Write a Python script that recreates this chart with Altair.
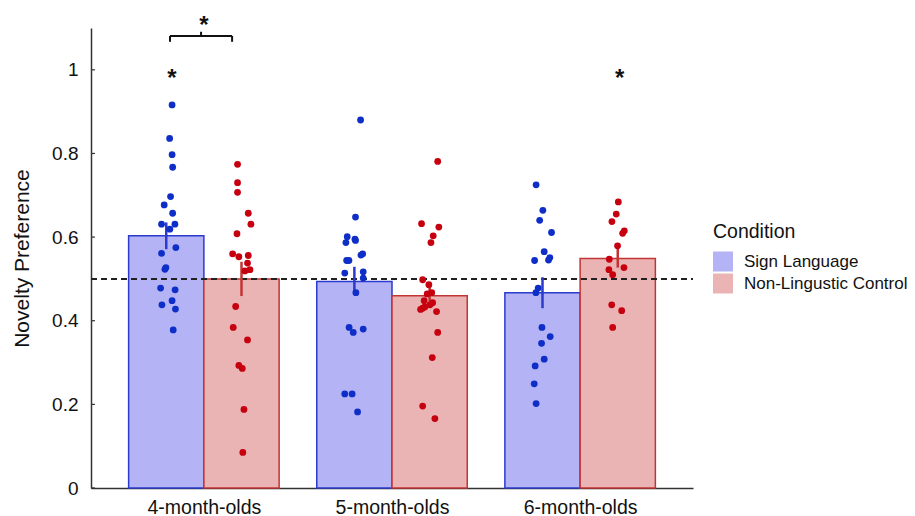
import altair as alt
import pandas as pd

FONT = "Liberation Sans"

groups = ["4-month-olds", "5-month-olds", "6-month-olds"]
conditions = ["Sign Language", "Non-Lingustic Control"]

# bar means and error bar ends
mean_sign = [0.603, 0.494, 0.467]
mean_ctrl = [0.500, 0.460, 0.549]
err_lo_sign = [0.571, 0.466, 0.430]
err_hi_sign = [0.635, 0.529, 0.504]
err_lo_ctrl = [0.459, 0.437, 0.527]
err_hi_ctrl = [0.541, 0.483, 0.579]

# individual infants: values and horizontal jitter (category units)
sign_4 = [0.916, 0.836, 0.797, 0.767, 0.697, 0.677, 0.657, 0.631, 0.631, 0.619,
          0.575, 0.561, 0.523, 0.527, 0.478, 0.474, 0.448, 0.438, 0.428, 0.378]
sign_4_jit = [0.031, 0.018, 0.031, 0.034, 0.023, -0.011, 0.034, -0.025, 0.046, 0.019,
              0.051, -0.025, -0.007, -0.002, -0.030, 0.047, 0.031, -0.023, 0.049, 0.037]
ctrl_4 = [0.774, 0.730, 0.707, 0.657, 0.631, 0.608, 0.560, 0.553, 0.556, 0.538,
          0.522, 0.519, 0.434, 0.384, 0.354, 0.293, 0.286, 0.188, 0.085]
ctrl_4_jit = [-0.021, -0.021, -0.021, 0.036, 0.050, -0.024, -0.047, -0.014, 0.036, 0.032,
              0.045, 0.018, -0.031, -0.044, 0.032, -0.014, 0.004, 0.013, 0.007]
sign_5 = [0.880, 0.648, 0.601, 0.595, 0.587, 0.592, 0.560, 0.557, 0.544, 0.544,
          0.514, 0.517, 0.502, 0.467, 0.384, 0.372, 0.380, 0.225, 0.225, 0.182]
sign_5_jit = [0.033, 0.006, -0.038, 0.003, -0.045, 0.006, 0.044, 0.035, -0.041, -0.029,
              -0.051, 0.047, 0.047, 0.008, -0.028, -0.006, 0.047, -0.051, -0.012, 0.017]
ctrl_5 = [0.781, 0.632, 0.624, 0.603, 0.587, 0.498, 0.486, 0.467, 0.464, 0.448,
          0.443, 0.438, 0.430, 0.427, 0.433, 0.422, 0.372, 0.312, 0.196, 0.166]
ctrl_5_jit = [0.043, -0.043, 0.049, 0.019, 0.007, -0.037, -0.004, 0.011, -0.013, -0.029,
              0.016, 0.002, -0.037, -0.048, -0.025, 0.037, 0.043, 0.014, -0.037, 0.028]
sign_6 = [0.725, 0.664, 0.640, 0.611, 0.565, 0.551, 0.545, 0.544, 0.478, 0.467,
          0.384, 0.362, 0.346, 0.308, 0.292, 0.249, 0.202]
sign_6_jit = [-0.034, 0.002, -0.015, 0.048, 0.009, 0.039, 0.032, -0.042, -0.023, -0.035,
              -0.003, 0.041, -0.005, 0.009, -0.039, -0.044, -0.034]
ctrl_6 = [0.684, 0.655, 0.637, 0.615, 0.609, 0.579, 0.547, 0.527, 0.522, 0.510,
          0.438, 0.424, 0.384]
ctrl_6_jit = [0.003, -0.008, -0.031, 0.035, 0.026, -0.001, -0.045, 0.033, -0.047, -0.027,
              -0.032, 0.021, -0.027]

y_ticks = [0, 0.2, 0.4, 0.6, 0.8, 1]
chance = 0.5

# annotations: significance bracket and stars
bracket_x = [0.82, 1.15]
bracket_y = [1.081, 1.067]
bracket_mid = [0.985, 1.091]
star_x = [0.83, 1.0, 3.21]
star_y = [0.962, 1.089, 0.962]

FILL = ["#b3b3f6", "#ebb4b4"]
STROKE = ["#2b3bcc", "#c33434"]
DOTS = ["#0f2ec8", "#c6000f"]
BAR_W = 0.4

# ---- build tables ----
bars = []
errs = []
for i, g in enumerate(groups):
    gi = i + 1
    bars.append(dict(group=g, cond=conditions[0], x0=gi - BAR_W, x1=gi, value=mean_sign[i]))
    bars.append(dict(group=g, cond=conditions[1], x0=gi, x1=gi + BAR_W, value=mean_ctrl[i]))
    errs.append(dict(cond=conditions[0], xc=gi - BAR_W / 2, lo=err_lo_sign[i], hi=err_hi_sign[i]))
    errs.append(dict(cond=conditions[1], xc=gi + BAR_W / 2, lo=err_lo_ctrl[i], hi=err_hi_ctrl[i]))
bars = pd.DataFrame(bars)
errs = pd.DataFrame(errs)

pts = []
series = [
    (0, 0, sign_4, sign_4_jit), (0, 1, ctrl_4, ctrl_4_jit),
    (1, 0, sign_5, sign_5_jit), (1, 1, ctrl_5, ctrl_5_jit),
    (2, 0, sign_6, sign_6_jit), (2, 1, ctrl_6, ctrl_6_jit),
]
for gi, ci, vals, jit in series:
    centre = gi + 1 + (-BAR_W / 2 if ci == 0 else BAR_W / 2)
    for v, j in zip(vals, jit):
        pts.append(dict(cond=conditions[ci], xp=centre + j, value=v))
pts = pd.DataFrame(pts)

ticks_df = pd.DataFrame({"t": y_ticks})
seg = pd.DataFrame([
    dict(xa=bracket_x[0], xb=bracket_x[1], ya=bracket_y[0], yb=bracket_y[0]),
    dict(xa=bracket_x[0], xb=bracket_x[0], ya=bracket_y[0], yb=bracket_y[1]),
    dict(xa=bracket_x[1], xb=bracket_x[1], ya=bracket_y[0], yb=bracket_y[1]),
    dict(xa=bracket_mid[0], xb=bracket_mid[0], ya=bracket_y[0], yb=bracket_mid[1]),
])
stars = pd.DataFrame({"x": star_x, "y": star_y, "s": ["*"] * len(star_x)})

label_expr = " : ".join(
    [f"datum.value == {i + 1} ? '{g}'" for i, g in enumerate(groups)]) + " : ''"

xscale = alt.Scale(domain=[0.4, 3.6], nice=False, zero=False)
yscale = alt.Scale(domain=[0, 1.1], nice=False, zero=True)

x_axis = alt.Axis(values=[1, 2, 3], labelExpr=label_expr, ticks=False, grid=False,
                  title=None, labelFontSize=19.5, labelColor="#111", labelPadding=10,
                  domainColor="#333", domainWidth=1.5, labelFont=FONT)
y_axis = alt.Axis(values=y_ticks, format="~g", ticks=False, grid=False,
                  title="Novelty Preference", titleFontSize=21, titleFontWeight="normal",
                  titleColor="#111", titleFont=FONT, titleX=-59, titleY=230,
                  labelFontSize=19, labelColor="#111", labelPadding=13, labelFont=FONT,
                  domainColor="#333", domainWidth=1.5)


def X(field):
    return alt.X(field, scale=xscale, axis=x_axis)


def Y(field):
    return alt.Y(field, scale=yscale, axis=y_axis)


bar_layer = alt.Chart(bars).mark_bar(strokeWidth=1.5, opacity=1).encode(
    x=X("x0:Q"),
    x2="x1:Q",
    y=Y("value:Q"),
    y2=alt.datum(0),
    fill=alt.Fill("cond:N", scale=alt.Scale(domain=conditions, range=FILL),
                  legend=alt.Legend(title="Condition", orient="none", legendX=622, legendY=195,
                                    symbolType="square", symbolSize=400, symbolStrokeWidth=0,
                                    symbolOpacity=1, labelFontSize=17, titleFontSize=19.5,
                                    titleFontWeight="normal", titleColor="#111", labelColor="#111",
                                    labelOffset=11, rowPadding=2, titlePadding=9, padding=0,
                                    labelFont=FONT, titleFont=FONT, labelLimit=300)),
    stroke=alt.Stroke("cond:N", scale=alt.Scale(domain=conditions, range=STROKE), legend=None),
)

chance_layer = alt.Chart(bars).mark_rule(strokeDash=[6, 4], color="#222", strokeWidth=1.5).encode(
    x=alt.value(0),
    x2=alt.value(602),
    y=alt.datum(chance, scale=yscale, axis=y_axis),
)

err_layer = alt.Chart(errs).mark_rule(strokeWidth=2.5).encode(
    x=X("xc:Q"),
    y=Y("lo:Q"),
    y2="hi:Q",
    stroke=alt.Stroke("cond:N", scale=alt.Scale(domain=conditions, range=STROKE), legend=None),
)

pt_layer = alt.Chart(pts).mark_circle(size=46, opacity=1).encode(
    x=X("xp:Q"),
    y=Y("value:Q"),
    color=alt.Color("cond:N", scale=alt.Scale(domain=conditions, range=DOTS), legend=None),
)

tick_layer = alt.Chart(ticks_df).mark_rule(color="#333", strokeWidth=1.2).encode(
    x=alt.value(0), x2=alt.value(4),
    y=Y("t:Q"),
)

bracket_layer = alt.Chart(seg).mark_rule(color="#111", strokeWidth=2).encode(
    x=X("xa:Q"), x2="xb:Q",
    y=Y("ya:Q"), y2="yb:Q",
)

star_layer = alt.Chart(stars).mark_text(fontSize=24, fontWeight="bold", color="#111",
                                         font=FONT, baseline="alphabetic").encode(
    x=X("x:Q"),
    y=Y("y:Q"),
    text="s:N",
)

chart = alt.layer(bar_layer, chance_layer, err_layer, pt_layer, tick_layer,
                  bracket_layer, star_layer).properties(
    width=602, height=460,
    autosize=alt.AutoSizeParams(type="none"),
    padding={"left": 83, "top": 20, "right": 214, "bottom": 32},
).configure(font=FONT).configure_view(stroke=None)

chart.save("out.html", embed_options={"renderer": "svg", "actions": False})
